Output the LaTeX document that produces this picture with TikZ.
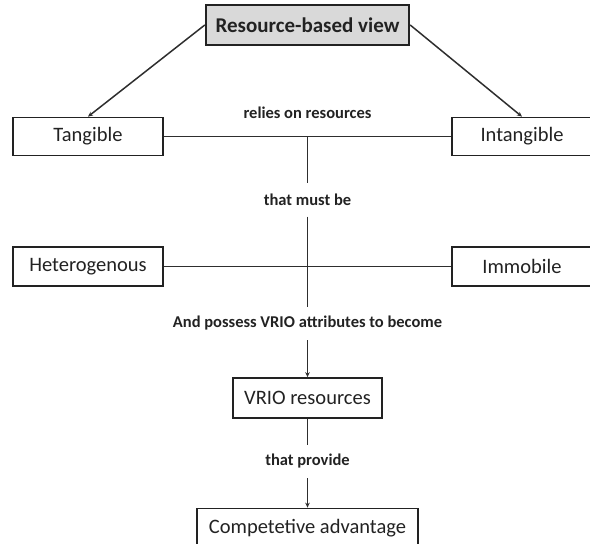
\documentclass[tikz,border=0pt]{standalone}
\usepackage{fontspec}
\setmainfont{Carlito}
\usetikzlibrary{arrows.meta}
\definecolor{txt}{HTML}{222222}
\definecolor{ln}{HTML}{2E2E2E}
\definecolor{titlefill}{HTML}{D9D9D9}
\begin{document}
\begin{tikzpicture}[x=1pt,y=-1pt,
  box/.style={draw=txt,line width=1.7pt,inner sep=0pt,text=txt,
    font=\fontsize{20.5}{24}\selectfont},
  titlebox/.style={box,fill=titlefill,line width=2.4pt,
    font=\fontsize{21}{25}\selectfont\bfseries},
  lbl/.style={inner sep=0pt,minimum height=33pt,text=txt,
    font=\fontsize{16.5}{20}\selectfont\bfseries},
  conn/.style={draw=ln,line width=1.5pt},
  arr/.style={conn,-{Stealth[length=5pt,width=4.5pt]}}]
\useasboundingbox (0,0) rectangle (590,544);
\node[titlebox,minimum width=203pt,minimum height=40pt] (title) at (307.5,25) {Resource-based view};
\node[box,minimum width=150pt,minimum height=38pt] (tan) at (88,136.5) {Tangible};
\node[box,minimum width=140pt,minimum height=38pt] (intan) at (522,136.5) {Intangible};
\node[box,minimum width=150pt,minimum height=39pt] (het) at (88,266.5) {Heterogenous};
\node[box,minimum width=140pt,minimum height=39pt] (imm) at (522,266.5) {Immobile};
\node[box,minimum width=149pt,minimum height=40pt] (vrio) at (307.5,398) {VRIO resources};
\node[box,minimum width=221pt,minimum height=40pt] (comp) at (307.5,528.5) {Competetive advantage};
\node[lbl] (relies) at (307.5,113) {relies on resources};
\node[lbl] (must) at (307.5,200) {that must be};
\node[lbl] (poss) at (307.5,323.5) {And possess VRIO attributes to become};
\node[lbl] (prov) at (307.5,461.5) {that provide};
\coordinate (c1) at (307.5,136.5);
\coordinate (c2) at (307.5,266.5);
\draw[arr] (title.west) -- (tan.north);
\draw[arr] (title.east) -- (intan.north);
\draw[conn] (tan.east) -- (intan.west);
\draw[conn] (het.east) -- (imm.west);
\draw[conn] (c1) -- (must.north);
\draw[conn] (must.south) -- (c2);
\draw[conn] (c2) -- (poss.north);
\draw[arr] (poss.south) -- (vrio.north);
\draw[conn] (vrio.south) -- (prov.north);
\draw[arr] (prov.south) -- (comp.north);
\end{tikzpicture}
\end{document}
